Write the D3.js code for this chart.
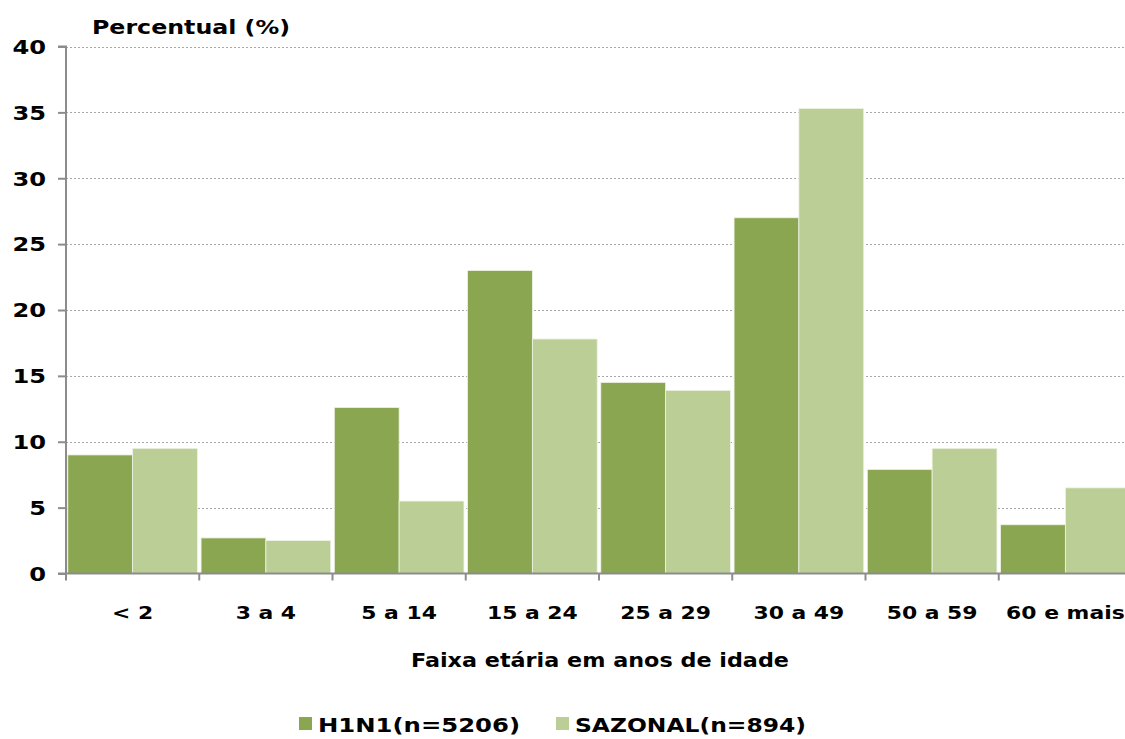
<!DOCTYPE html>
<html><head><meta charset="utf-8">
<script src="https://cdn.jsdelivr.net/npm/d3@7"></script>
<style>
html,body{margin:0;padding:0;background:#fff;}
svg text{font-family:"DejaVu Sans",Verdana,sans-serif;font-weight:bold;fill:#000;}
</style></head>
<body>
<svg id="c" width="1125" height="739"></svg>
<script>
const categories = ["< 2","3 a 4","5 a 14","15 a 24","25 a 29","30 a 49","50 a 59","60 e mais"];
const seriesNames = ["H1N1(n=5206)","SAZONAL(n=894)"];
const h1n1 = [9.0, 2.7, 12.6, 23.0, 14.5, 27.0, 7.9, 3.7];
const sazonal = [9.5, 2.5, 5.5, 17.8, 13.9, 35.3, 9.5, 6.5];
const yTicks = [0,5,10,15,20,25,30,35,40];
const colors = ["#8ba650","#bace96"];

(function(){
const svg = d3.select("#c");
const pL = 66, pR = 1132, pT = 46.5, pB = 573.5;
const x = d3.scaleBand().domain(categories).range([pL, pR]).paddingInner(0).paddingOuter(0);
const y = d3.scaleLinear().domain([0,40]).range([pB, pT]);
const x1 = d3.scaleBand().domain([0,1]).range([0, x.bandwidth()]).paddingOuter(0.028);

function stretch(sel, k){
  sel.each(function(){
    const L = this.getComputedTextLength();
    d3.select(this).attr("textLength", L*k).attr("lengthAdjust","spacingAndGlyphs");
  });
}

// gridlines
svg.append("g").selectAll("line").data(yTicks.filter(d=>d>0)).join("line")
  .attr("x1", pL).attr("x2", 1125).attr("y1", d=>Math.round(y(d))+0.5).attr("y2", d=>Math.round(y(d))+0.5)
  .attr("stroke","#a8a8a8").attr("stroke-width",1.1).attr("stroke-dasharray","2,2");

// bars
const data = categories.map((c,i)=>({c, v:[h1n1[i], sazonal[i]]}));
const g = svg.append("g");
data.forEach(d=>{
  d.v.forEach((v,j)=>{
    g.append("rect")
      .attr("x", x(d.c)+x1(j)).attr("width", x1.bandwidth())
      .attr("y", y(v)).attr("height", y(0)-y(v))
      .attr("fill", colors[j]).attr("stroke","#eef3e4").attr("stroke-width",0.8);
  });
});

// y axis
const yAxis = d3.axisLeft(y).tickValues(yTicks).tickSize(8).tickPadding(12);
const ya = svg.append("g").attr("transform",`translate(${pL},0)`).call(yAxis);
ya.select(".domain").attr("stroke","#8c8c8c").attr("stroke-width",2).attr("d",`M-8,${pT}H0V${pB}`);
ya.selectAll(".tick line").attr("stroke","#8c8c8c").attr("stroke-width",2);
ya.selectAll(".tick text").style("font-size","19px").attr("fill","#000").attr("dy","0.36em");
stretch(ya.selectAll(".tick text"), 1.27);

// x axis
const xa = svg.append("g").attr("transform",`translate(0,${pB})`);
xa.append("line").attr("x1",pL-8).attr("x2",1125).attr("y1",0).attr("y2",0).attr("stroke","#8c8c8c").attr("stroke-width",2);
xa.selectAll("line.t").data(categories).join("line").attr("class","t")
  .attr("x1",d=>x(d)).attr("x2",d=>x(d)).attr("y1",0).attr("y2",7)
  .attr("stroke","#8c8c8c").attr("stroke-width",2);
const xl = xa.selectAll("text").data(categories).join("text")
  .attr("x",d=>x(d)+x.bandwidth()/2).attr("y",45)
  .attr("text-anchor","middle").style("font-size","17.5px").text(d=>d);
stretch(xl, 1.25);

// titles
svg.append("text").attr("x",92).attr("y",34).style("font-size","20px").text("Percentual (%)")
  .attr("textLength",198).attr("lengthAdjust","spacingAndGlyphs");
svg.append("text").attr("x",600).attr("y",667).attr("text-anchor","middle").style("font-size","20px")
  .text("Faixa etária em anos de idade").attr("textLength",378).attr("lengthAdjust","spacingAndGlyphs");

// legend
const lg = svg.append("g");
const legendX = [299, 556];
const legendW = [202, 231];
seriesNames.forEach((n,i)=>{
  lg.append("rect").attr("x",legendX[i]).attr("y",717).attr("width",13).attr("height",13).attr("fill",colors[i]);
  lg.append("text").attr("x",legendX[i]+19).attr("y",732).style("font-size","19px").text(n)
    .attr("textLength",legendW[i]).attr("lengthAdjust","spacingAndGlyphs");
});
})();
</script>
</body></html>
